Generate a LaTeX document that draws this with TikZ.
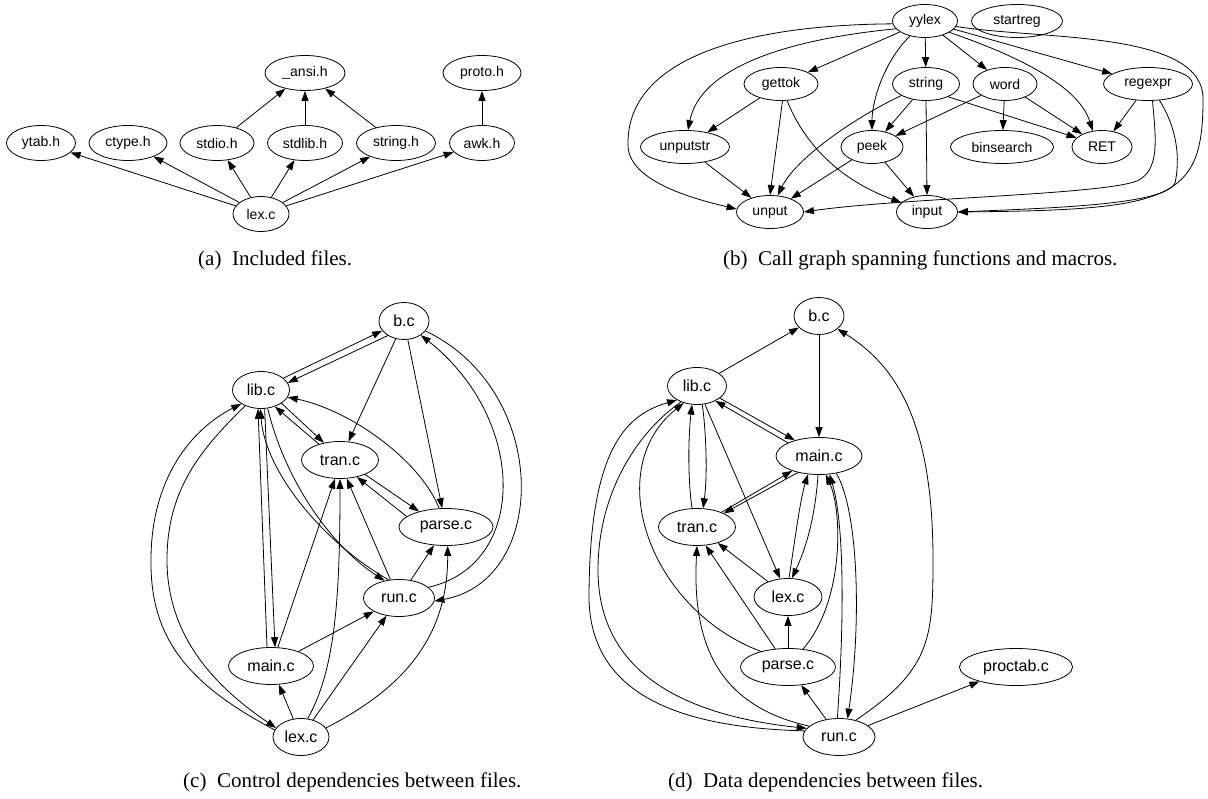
\documentclass[tikz,border=0pt]{standalone}
\usepackage{fontspec}
\setmainfont{Liberation Serif}
\setsansfont{Liberation Sans}
\usetikzlibrary{arrows.meta, shapes.geometric}
\tikzset{
  hdr/.style={
    ellipse, draw, line width=0.8pt, inner sep=0pt,
    minimum height=35pt, font=\sffamily\fontsize{14}{16}\selectfont
  },
  fn/.style={
    ellipse, draw, line width=0.8pt, inner sep=0pt,
    minimum height=33pt, font=\sffamily\fontsize{14}{16}\selectfont
  },
  src/.style={
    ellipse, draw, line width=0.8pt, inner sep=0pt,
    minimum height=37pt, font=\sffamily\fontsize{16}{18}\selectfont
  },
  dep/.style={-{Triangle[length=10pt, width=7pt]}, line width=0.8pt},
  subcap/.style={font=\rmfamily\fontsize{21}{24}\selectfont, anchor=base west, inner sep=0pt},
}

\begin{document}
\begin{tikzpicture}[x=1pt, y=-1pt]
\useasboundingbox (0,0) rectangle (1208,799);

% --- (a) Included files ---
\node[hdr, minimum width=80pt] (ansi) at (305,73) {\_ansi.h};
\node[hdr, minimum width=78pt] (proto) at (482,73) {proto.h};
\node[hdr, minimum width=69pt] (ytab) at (41,143) {ytab.h};
\node[hdr, minimum width=78pt] (ctype) at (128,143) {ctype.h};
\node[hdr, minimum width=74pt] (stdio) at (217,143) {stdio.h};
\node[hdr, minimum width=75pt] (stdlib) at (305,143) {stdlib.h};
\node[hdr, minimum width=79pt] (strh) at (396,143) {string.h};
\node[hdr, minimum width=65pt] (awk) at (482,143) {awk.h};
\node[hdr, minimum width=56pt] (lexa) at (261,214) {lex.c};

\foreach \h in {ytab, ctype, stdio, stdlib, strh, awk}
  \draw[dep] (lexa) -- (\h);
\foreach \h in {stdio, stdlib, strh}
  \draw[dep] (\h) -- (ansi);
\draw[dep] (awk) -- (proto);

\node[subcap] (capa) at (198,266) {(a)\enspace Included files.};

% --- (b) Call graph ---
\node[fn, minimum width=65pt] (yylex) at (925,21) {yylex};
\node[fn, minimum width=91pt] (startreg) at (1017,21) {startreg};
\node[fn, minimum width=74pt] (gettok) at (781,84) {gettok};
\node[fn, minimum width=67pt] (strfn) at (926,84) {string};
\node[fn, minimum width=64pt] (word) at (1005,84) {word};
\node[fn, minimum width=89pt] (regexpr) at (1148,84) {regexpr};
\node[fn, minimum width=89pt] (unputstr) at (685,147) {unputstr};
\node[fn, minimum width=62pt] (peek) at (872,147) {peek};
\node[fn, minimum width=103pt] (binsearch) at (1002,147) {binsearch};
\node[fn, minimum width=60pt] (ret) at (1102,147) {RET};
\node[fn, minimum width=67pt] (unput) at (770,212) {unput};
\node[fn, minimum width=61pt] (input) at (927,212) {input};

\foreach \f in {gettok, strfn, word, regexpr}
  \draw[dep] (yylex) -- (\f);
\draw[dep] (yylex.185) .. controls (740,25) and (628,60) .. (628,143)
  .. controls (626,180) and (690,198) .. (unput.175);
\draw[dep] (yylex.195) .. controls (780,40) and (700,70) .. (unputstr.80);
\draw[dep] (yylex.225) .. controls (885,60) and (872,100) .. (peek.north);
\draw[dep] (yylex.335) .. controls (1030,60) and (1080,90) .. (ret.120);
\draw[dep] (yylex.350) .. controls (1040,40) and (1205,30) .. (1203,100)
  .. controls (1203,200) and (1170,210) .. (input.east);
\draw[dep] (regexpr) -- (ret);
\draw[dep] (regexpr.285) .. controls (1156,140) and (1160,170) .. (1137,181)
  .. controls (1100,195) and (900,198) .. (unput.east);
\draw[dep] (regexpr.305) .. controls (1178,130) and (1180,160) .. (1175,183)
  .. controls (1165,205) and (1050,208) .. (input.east);
\draw[dep] (gettok) -- (unputstr);
\draw[dep] (gettok.275) -- (unput.north);
\draw[dep] (gettok.290) .. controls (805,145) and (840,180) .. (input.160);
\draw[dep] (strfn) -- (peek);
\draw[dep] (strfn.205) .. controls (850,120) and (795,160) .. (unput.65);
\draw[dep] (strfn.south) -- (input.north);
\draw[dep] (strfn.330) -- (ret.160);
\draw[dep] (word) -- (peek);
\draw[dep] (word) -- (binsearch);
\draw[dep] (word) -- (ret);
\draw[dep] (unputstr) -- (unput);
\draw[dep] (peek) -- (unput);
\draw[dep] (peek) -- (input);

\node[subcap] (capb) at (723,266) {(b)\enspace Call graph spanning functions and macros.};

% --- (c) Control dependencies ---
\node[src, minimum width=50pt] (bc) at (404,321) {b.c};
\node[src, minimum width=57pt] (libc) at (261,390) {lib.c};
\node[src, minimum width=77pt] (tranc) at (340,460) {tran.c};
\node[src, minimum width=94pt] (parsec) at (446,527) {parse.c};
\node[src, minimum width=71pt] (runc) at (399,598) {run.c};
\node[src, minimum width=85pt] (mainc) at (271,666) {main.c};
\node[src, minimum width=56pt] (lexc) at (301,737) {lex.c};

\draw[dep] (libc.28) -- (bc.204);
\draw[dep] (bc.222) -- (libc.15);
\draw[dep] (bc) -- (tranc);
\draw[dep] (bc) -- (parsec);
\draw[dep] (runc.20) .. controls (528,565) and (528,420) .. (bc.320);
\draw[dep] (bc.335) .. controls (550,390) and (550,580) .. (runc.355);
\draw[dep] (tranc.143) -- (libc.310);
\draw[dep] (libc.327) -- (tranc.133);
\draw[dep] (parsec.110) .. controls (420,460) and (350,410) .. (libc.345);
\draw[dep] (tranc.330) -- (parsec.150);
\draw[dep] (parsec.165) -- (tranc.315);
\draw[dep] (runc.120) .. controls (320,540) and (265,470) .. (libc.268);
\draw[dep] (libc.290) .. controls (285,480) and (330,545) .. (runc.130);
\draw[dep] (mainc.102) -- (libc.261);
\draw[dep] (libc.281) -- (mainc.78);
\draw[dep] (mainc.70) -- (tranc.255);
\draw[dep] (lexc.70) .. controls (335,670) and (340,600) .. (tranc.270);
\draw[dep] (runc.115) -- (tranc.290);
\draw[dep] (runc) -- (parsec);
\draw[dep] (mainc) -- (runc);
\draw[dep] (lexc) -- (runc);
\draw[dep] (lexc.20) .. controls (400,690) and (448,640) .. (parsec.275);
\draw[dep] (lexc) -- (mainc);
\draw[dep] (lexc.165) .. controls (190,685) and (150,640) .. (151,560)
  .. controls (151,480) and (190,430) .. (libc.215);
\draw[dep] (libc.225) .. controls (200,450) and (167,490) .. (167,560)
  .. controls (167,640) and (220,690) .. (lexc.160);

\node[subcap] (capc) at (183,787) {(c)\enspace Control dependencies between files.};

% --- (d) Data dependencies ---
\node[src, minimum width=50pt] (bd) at (819,316) {b.c};
\node[src, minimum width=59pt] (libd) at (697,386) {lib.c};
\node[src, minimum width=86pt] (maind) at (819,456) {main.c};
\node[src, minimum width=77pt] (trand) at (697,527) {tran.c};
\node[src, minimum width=68pt] (lexd) at (788,597) {lex.c};
\node[src, minimum width=95pt] (parsed) at (788,667) {parse.c};
\node[src, minimum width=72pt] (rund) at (839,737) {run.c};
\node[src, minimum width=113pt] (proctab) at (1016,667) {proctab.c};

\draw[dep] (libd) -- (bd);
\draw[dep] (bd) -- (maind);
\draw[dep] (rund.45) .. controls (930,670) and (933,640) .. (933,560)
  .. controls (933,420) and (895,365) .. (bd.325);
\draw[dep] (libd.332) -- (maind.147);
\draw[dep] (maind.157) -- (libd.321);
\draw[dep] (trand.105) .. controls (688,480) and (688,440) .. (libd.255);
\draw[dep] (libd.286) .. controls (707,440) and (707,480) .. (trand.72);
\draw[dep] (libd) -- (lexd);
\draw[dep] (trand.31) -- (maind.209);
\draw[dep] (maind.218) -- (trand.27);
\draw[dep] (lexd.87) .. controls (795,540) and (800,500) .. (maind.239);
\draw[dep] (maind.267) .. controls (815,520) and (805,550) .. (lexd.78);
\draw[dep] (parsed.50) .. controls (845,600) and (842,510) .. (maind.290);
\draw[dep] (rund.95) .. controls (843,640) and (846,530) .. (maind.300);
\draw[dep] (maind.315) .. controls (858,510) and (862,620) .. (rund.65);
\draw[dep] (lexd) -- (trand);
\draw[dep] (parsed.125) -- (trand.295);
\draw[dep] (rund.160) .. controls (715,705) and (692,640) .. (trand.270);
\draw[dep] (parsed) -- (lexd);
\draw[dep] (parsed.150) .. controls (650,610) and (600,470) .. (libd.232);
\draw[dep] (rund.170) .. controls (700,728) and (592,705) .. (589,600)
  .. controls (589,450) and (625,415) .. (libd.215);
\draw[dep] (libd.225) .. controls (640,430) and (598,490) .. (598,570)
  .. controls (598,670) and (680,715) .. (rund.165);
\draw[dep] (rund) -- (parsed);
\draw[dep] (rund) -- (proctab);

\node[subcap] (capd) at (668,787) {(d)\enspace Data dependencies between files.};

\end{tikzpicture}
\end{document}
